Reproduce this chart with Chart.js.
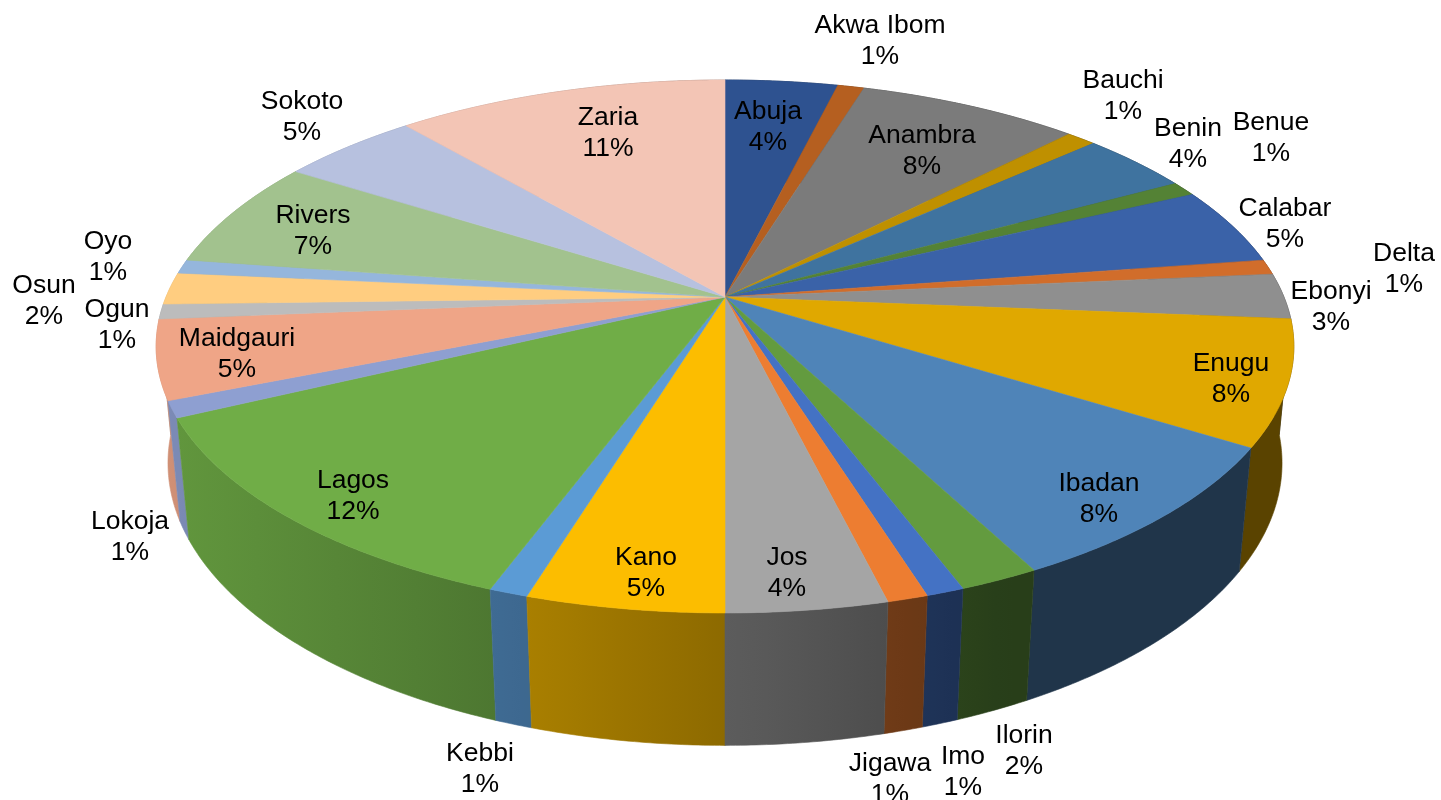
<!DOCTYPE html>
<html>
<head>
<meta charset="utf-8">
<title>Pie</title>
<script src="https://cdn.jsdelivr.net/npm/chart.js@4"></script>
<style>
  html, body { margin: 0; padding: 0; background: #fff; }
  canvas { display: block; }
</style>
</head>
<body>
<canvas id="myChart" width="1441" height="800"></canvas>
<script>
const cities = ['Abuja', 'Akwa Ibom', 'Anambra', 'Bauchi', 'Benin', 'Benue', 'Calabar', 'Delta', 'Ebonyi', 'Enugu',
  'Ibadan', 'Ilorin', 'Imo', 'Jigawa', 'Jos', 'Kano', 'Kebbi', 'Lagos', 'Lokoja', 'Maidgauri', 'Ogun', 'Osun', 'Oyo',
  'Rivers', 'Sokoto', 'Zaria'];
const shares = [3.83, 0.90, 7.54, 1.01, 3.75, 0.89, 4.73, 0.91, 2.77, 7.55,
  8.48, 1.92, 0.91, 0.97, 3.84, 4.71, 0.93, 12.24, 1.00, 4.78, 0.91, 1.94, 0.85,
  6.64, 4.72, 11.28];
const sliceColors = ['#2e5290', '#b55f20', '#7b7b7b', '#bf9000', '#3f739f', '#548235', '#3a62a8', '#d16d2b', '#8f8f8f', '#e0a800',
  '#4f84b8', '#639b3f', '#4472c4', '#ed7d31', '#a5a5a5', '#fcbd00', '#5b9bd5', '#70ad47', '#8e9fd1', '#efa587', '#bcbcbc', '#ffcd80', '#95b6dc',
  '#a2c28e', '#b7c1df', '#f3c5b5'];

// where each two-line label sits on the page (centre of the block)
const labelX = [768, 880, 922, 1123, 1188, 1271, 1285, 1404, 1331, 1231,
  1099, 1024, 963, 890, 787, 646, 480, 353, 130, 237, 117, 44, 108,
  313, 302, 608];
const labelY = [127, 41, 151, 96, 144, 138, 224, 269, 307, 379,
  499, 751, 772, 779, 573, 573, 769, 496, 537, 354, 325, 301, 257,
  231, 117, 133];

// perspective of the tilted disc, relative to the pie radius
const tiltX = 1.882;
const tiltY = 0.8663;
const depthY = 0.394;
const persp = 0.1857;
const perspDepth = 0.0205;

function project(arc, angle, h) {
  let u = Math.cos(angle);
  let v = Math.sin(angle);
  let w = 1 - persp * v + perspDepth * h;
  return {
    x: arc.x + arc.outerRadius * tiltX * u / w,
    y: arc.y + arc.outerRadius * (tiltY * v + depthY * h) / w
  };
}

function rimPoints(arc, h) {
  let steps = Math.max(2, Math.ceil((arc.endAngle - arc.startAngle) / 0.008));
  let pts = [];
  for (let i = 0; i <= steps; i++) {
    pts.push(project(arc, arc.startAngle + (arc.endAngle - arc.startAngle) * i / steps, h));
  }
  return pts;
}

function shade(hex, f) {
  let n = parseInt(hex.slice(1), 16);
  let r = Math.round((n >> 16 & 255) * f);
  let g = Math.round((n >> 8 & 255) * f);
  let b = Math.round((n & 255) * f);
  return 'rgb(' + r + ',' + g + ',' + b + ')';
}

// side wall gets darker from left to right
function wallFactor(x) {
  return Math.min(0.87, Math.max(0.40, 0.87 - 0.4 * (x - 170) / 716));
}

const pie3d = {
  id: 'pie3d',
  beforeDatasetsDraw(chart) {
    const ctx = chart.ctx;
    const arcs = chart.getDatasetMeta(0).data;
    const order = arcs.map((a, i) => i).sort((a, b) => {
      let mid = i => Math.abs((arcs[i].startAngle + arcs[i].endAngle) / 2 - Math.PI / 2);
      return mid(b) - mid(a);
    });

    // walls, back to front
    order.forEach(i => {
      let outline = rimPoints(arcs[i], 0).concat(rimPoints(arcs[i], 1).reverse());
      let xs = outline.map(p => p.x);
      let x0 = Math.min(...xs);
      let x1 = Math.max(...xs);
      let grad = ctx.createLinearGradient(x0, 0, x1 + 0.01, 0);
      for (let s = 0; s <= 4; s++) {
        grad.addColorStop(s / 4, shade(sliceColors[i], wallFactor(x0 + (x1 - x0) * s / 4)));
      }
      ctx.beginPath();
      outline.forEach(p => ctx.lineTo(p.x, p.y));
      ctx.closePath();
      ctx.fillStyle = grad;
      ctx.strokeStyle = grad;
      ctx.lineWidth = 0.6;
      ctx.fill();
      ctx.stroke();
    });

    // top face
    arcs.forEach((arc, i) => {
      ctx.beginPath();
      ctx.moveTo(arc.x, arc.y);
      rimPoints(arc, 0).forEach(p => ctx.lineTo(p.x, p.y));
      ctx.closePath();
      ctx.fillStyle = sliceColors[i];
      ctx.strokeStyle = sliceColors[i];
      ctx.lineWidth = 0.6;
      ctx.fill();
      ctx.stroke();
    });
    return false;
  },
  afterDraw(chart) {
    const ctx = chart.ctx;
    const total = shares.reduce((a, b) => a + b, 0);
    ctx.save();
    ctx.font = '26.5px "Liberation Sans", Arial, sans-serif';
    ctx.textAlign = 'center';
    ctx.textBaseline = 'middle';
    ctx.fillStyle = '#000';
    cities.forEach((name, i) => {
      ctx.fillText(name, labelX[i], labelY[i] - 15.5);
      ctx.fillText(Math.round(shares[i] / total * 100) + '%', labelX[i], labelY[i] + 15.5);
    });
    ctx.restore();
  }
};

let ctx = document.getElementById('myChart').getContext('2d');
let myChart = new Chart(ctx, {
  type: 'pie',
  data: {
    labels: cities,
    datasets: [{
      data: shares,
      backgroundColor: sliceColors,
      borderWidth: 0
    }]
  },
  options: {
    responsive: false,
    animation: false,
    layout: { padding: { left: 9, right: 0, top: 0, bottom: 206 } },
    plugins: {
      legend: { display: false },
      title: { display: false },
      tooltip: { enabled: false }
    }
  },
  plugins: [pie3d]
});
</script>
</body>
</html>
